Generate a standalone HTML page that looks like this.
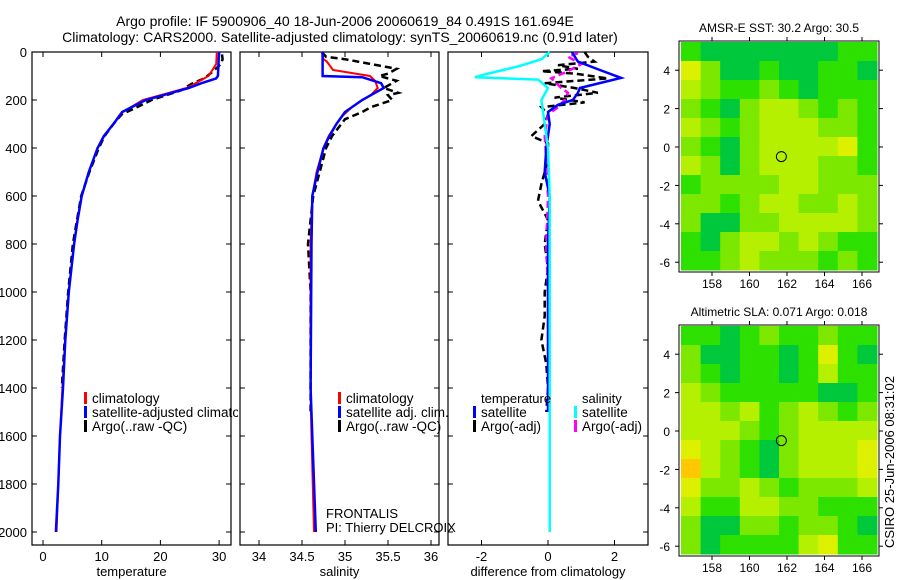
<!DOCTYPE html>
<html><head><meta charset="utf-8">
<style>
html,body{margin:0;padding:0;background:#fff;}
svg{display:block;font-family:"Liberation Sans",sans-serif;}
</style></head>
<body>
<svg id="fig" width="900" height="580" viewBox="0 0 900 580" xmlns="http://www.w3.org/2000/svg">
<defs><clipPath id="clip1"><rect x="0" y="0" width="238" height="580"/></clipPath></defs>
<rect width="900" height="580" fill="#fff"/>
<text x="345" y="26" font-size="14" text-anchor="middle">Argo profile: IF 5900906_40 18-Jun-2006 20060619_84 0.491S 161.694E</text>
<text x="340" y="42" font-size="14" text-anchor="middle">Climatology: CARS2000. Satellite-adjusted climatology: synTS_20060619.nc (0.91d later)</text>
<g id="g1" clip-path="url(#clip1)"></g>
<g id="g2"></g>
<g id="g3"></g>
<g id="m1"></g>
<g id="m2"></g>
<text transform="translate(894,462) rotate(-90)" font-size="13" text-anchor="middle">CSIRO 25-Jun-2006 08:31:02</text>
</svg>
<script>
// ---- data ----
const tempClimDepth = [0,50,100,130,150,180,200,250,300,350,400,500,600,700,800,1000,1200,1400,1600,1800,2000];
const tempClim      = [29.6,29.5,28.2,26,24.5,20,17,13.6,12,10.3,9.3,7.8,6.6,5.9,5.3,4.4,3.8,3.3,2.9,2.6,2.3];
const tempSatDepth  = [0,100,110,130,150,180,200,250,300,350,400,500,600,700,800,1000,1200,1400,1600,1800,2000];
const tempSat       = [30.0,29.8,29.5,27,24.8,20.5,17.5,13.5,12,10.4,9.3,7.8,6.6,5.9,5.3,4.4,3.8,3.4,2.9,2.6,2.2];
const tempArgoDepth = [10,30,50,80,110,130,160,200,230,260,300,350,400,500,600,700,800,1000,1200,1400];
const tempArgo      = [30.5,30.6,30.3,29,27.5,25.5,23.5,18.5,16,13.4,12,10.5,9.5,7.9,6.5,5.8,5.1,4.3,3.7,3.2];

const salClimDepth = [0,30,40,60,75,100,120,150,180,200,230,270,300,350,400,500,600,800,1400,1600,2000];
const salClim      = [34.73,34.75,34.79,34.83,34.86,35.29,35.35,35.38,35.3,35.2,35.08,34.96,34.9,34.81,34.75,34.67,34.62,34.6,34.6,34.61,34.64];
const salSatDepth  = [0,100,105,130,150,180,200,250,300,350,400,500,600,800,1400,1600,2000];
const salSat       = [34.74,34.74,35.2,35.42,35.45,35.3,35.2,35.0,34.9,34.82,34.75,34.68,34.62,34.61,34.6,34.62,34.66];
const salArgoDepth = [0,20,30,50,70,90,100,120,150,170,180,200,230,250,280,350,400,600,800,1000,1200,1500];
const salArgo      = [34.73,34.78,35.0,35.3,35.6,35.5,35.4,35.6,35.45,35.62,35.5,35.55,35.3,35.2,35.0,34.85,34.78,34.63,34.57,34.6,34.6,34.6];

const dTempSatDepth = [0,40,75,108,150,170,200,220,250,300,400,500,600,800,1000,1500];
const dTempSat      = [0.72,0.9,1.56,2.2,0.96,0.9,0.75,0.3,0.0,0.05,-0.05,-0.1,0.05,0,0,0];
const dSalSatDepth  = [0,30,60,90,105,115,150,200,300,400,600,1000,2000];
const dSalSat       = [0.05,-0.2,-0.9,-1.8,-2.2,-0.3,0.0,-0.2,-0.1,0,0.05,0.05,0.05];
const dSalArgoDepth = [5,20,50,80,110,150,170,200,230,260,350,450,600,800,1000,1200,1500];
const dSalArgo      = [0.9,0.6,1.0,0.6,0.1,0.4,0.6,0.5,0.3,0,-0.1,-0.05,0,-0.05,0,0,0];
const dTempArgoDepth = [0,20,40,55,70,80,90,110,130,150,170,190,210,230,260,300,350,380,450,550,620,700,800,900,1000,1100,1200,1300,1400,1500];
const dTempArgo      = [1.1,1.2,1.4,0.3,0.9,-0.2,0.8,1.8,-0.1,0.8,1.5,0.2,1.1,-0.2,0,-0.1,-0.5,0,0,-0.2,-0.3,0,-0.1,0,-0.1,-0.1,-0.2,-0.05,0,-0.05];

const depthTicks = [0,200,400,600,800,1000,1200,1400,1600,1800,2000];
const tempTicks = [0,10,20,30];
const salTicks = [34,34.5,35,35.5,36];
const diffTicks = [-2,0,2];

const sstGrid = [
[1,0,0,0,0,0,0,0,1,1],[4,2,0,0,1,0,0,1,1,0],[3,2,1,1,2,1,0,1,1,1],[2,1,0,2,3,3,2,1,2,1],
[3,2,1,2,3,3,3,2,2,1],[2,1,0,2,3,3,3,3,4,1],[3,2,0,2,3,3,3,2,2,1],[1,2,2,2,2,3,3,2,2,2],
[2,2,1,2,3,3,2,2,3,2],[2,0,0,2,2,3,3,3,3,2],[1,0,2,3,3,2,3,2,1,1],[1,1,2,3,2,2,2,1,2,1]];
const slaGrid = [
[1,1,0,1,2,1,1,2,1,1],[2,0,0,1,1,0,1,4,1,0],[2,1,0,1,1,0,1,3,1,1],[3,2,1,1,1,1,1,0,0,1],
[3,3,2,3,1,2,3,2,1,2],[3,3,3,2,1,2,3,3,3,3],[4,3,2,1,0,2,3,3,3,4],[5,3,2,1,0,2,3,3,3,4],
[4,2,2,3,2,1,2,2,2,3],[3,1,1,3,3,2,2,1,1,1],[2,0,0,2,2,1,2,2,1,0],[2,0,1,1,1,1,3,4,1,1]];
const lonTicks = [158,160,162,164,166];
const latTicks = [4,2,0,-2,-4,-6];
const floatLon = [161.7];
const floatLat = [-0.5];

// ---- helpers ----
const NS="http://www.w3.org/2000/svg";
function mk(parent,tag,attrs){const e=document.createElementNS(NS,tag);for(const k in attrs)e.setAttribute(k,attrs[k]);parent.appendChild(e);return e;}
const yD = d => 52 + 0.24*d;
const TOP=52,BOT=545;

function panel(g,x0,x1,xf,ticks,fmt,label,showY,nm){
  const f=mk(g,'rect',{x:x0,y:TOP,width:x1-x0,height:BOT-TOP,fill:'none',stroke:'#000','stroke-width':1.2});
  
  
  ticks.forEach(t=>{const x=xf(t);
    mk(g,'line',{x1:x,x2:x,y1:BOT,y2:BOT-5,stroke:'#000'});
    mk(g,'line',{x1:x,x2:x,y1:TOP,y2:TOP+5,stroke:'#000'});
    const tx=mk(g,'text',{x:x,y:BOT+16,'font-size':13,'text-anchor':'middle'});tx.textContent=fmt(t);
    
    
  });
  depthTicks.forEach(d=>{const y=yD(d);
    mk(g,'line',{x1:x0,x2:x0+5,y1:y,y2:y,stroke:'#000'});
    mk(g,'line',{x1:x1,x2:x1-5,y1:y,y2:y,stroke:'#000'});
    if(showY){const tx=mk(g,'text',{x:x0-5,y:y+5,'font-size':13,'text-anchor':'end'});tx.textContent=d;
      
      }
  });
  const xl=mk(g,'text',{x:(x0+x1)/2,y:576,'font-size':13,'text-anchor':'middle'});xl.textContent=label;
  
  
}
function line(g,xs,ds,xf,color,w,dash,nm){
  const pts=xs.map((v,i)=>xf(v).toFixed(1)+','+yD(ds[i]).toFixed(1)).join(' ');
  const p=mk(g,'polyline',{points:pts,fill:'none',stroke:color,'stroke-width':w});
  if(dash)p.setAttribute('stroke-dasharray',dash);
  
  
}
function legend(g,x,y,color,txt,nm){
  mk(g,'rect',{x:x,y:y-11,width:3,height:12,fill:color});
  const t=mk(g,'text',{x:x+8,y:y,'font-size':13.5});t.textContent=txt;
  
  
}
function txt(g,x,y,s,nm,anchor){const t=mk(g,'text',{x:x,y:y,'font-size':13,'text-anchor':anchor||'start'});t.textContent=s;
  
  }

// panel 1
const g1=document.getElementById('g1');
const xT=t=>43+5.87*t;
panel(g1,32,231,xT,tempTicks,String,'temperature',true,'temperature');
line(g1,tempArgo,tempArgoDepth,xT,'#000',2.5,'7,4','temp-argo-line');
line(g1,tempClim,tempClimDepth,xT,'#f00',2,null,'temp-climatology-line');
line(g1,tempSat,tempSatDepth,xT,'#00f',2.5,null,'temp-satellite-line');
legend(g1,84,403,'#f00','climatology','legend-climatology');
legend(g1,84,417,'#00f','satellite-adjusted climatology','legend-satellite');
legend(g1,84,431,'#000','Argo(..raw -QC)','legend-argo');

// panel 2
const g2=document.getElementById('g2');
const xS=s=>259+86*(s-34);
panel(g2,240,439,xS,salTicks,String,'salinity',false,'salinity');
line(g2,salArgo,salArgoDepth,xS,'#000',2.5,'7,4','sal-argo-line');
line(g2,salClim,salClimDepth,xS,'#f00',2,null,'sal-climatology-line');
line(g2,salSat,salSatDepth,xS,'#00f',2.5,null,'sal-satellite-line');
legend(g2,338,403,'#f00','climatology','legend-climatology');
legend(g2,338,417,'#00f','satellite adj. clim.','legend-satellite');
legend(g2,338,431,'#000','Argo(..raw -QC)','legend-argo');
txt(g2,326,518,'FRONTALIS','platform-label');
txt(g2,326,532,'PI: Thierry DELCROIX','pi-label');

// panel 3
const g3=document.getElementById('g3');
const xDf=v=>548+33.25*v;
panel(g3,448,648,xDf,diffTicks,String,'difference from climatology',false,'difference');
line(g3,dTempArgo,dTempArgoDepth,xDf,'#000',2.5,'7,4','dtemp-argo-line');
line(g3,dSalArgo,dSalArgoDepth,xDf,'#f0f',2.5,'7,4','dsal-argo-line');
line(g3,dTempSat,dTempSatDepth,xDf,'#00f',2.5,null,'dtemp-satellite-line');
line(g3,dSalSat,dSalSatDepth,xDf,'#0ff',2.5,null,'dsal-satellite-line');
txt(g3,481,403,'temperature','legend-temperature-heading');
txt(g3,582,403,'salinity','legend-salinity-heading');
legend(g3,473,417,'#00f','satellite','legend-temp-satellite');
legend(g3,473,431,'#000','Argo(-adj)','legend-temp-argo');
legend(g3,574,417,'#0ff','satellite','legend-sal-satellite');
legend(g3,574,431,'#f0f','Argo(-adj)','legend-sal-argo');

// maps
const palette=['#00c83c','#2ee000','#7ce800','#b4f000','#dcf000','#ffc800'];
function map(g,top,grid,title,nm){
  const L=679,R=879,B=top+231;
  const lonX=lon=>712+(lon-158)*18.75;
  const latY=lat=>top+106+(-lat)*19.2;
  const ny=grid.length,nx=grid[0].length;
  const cw=(R-2-(L+2))/nx,ch=(B-2-(top+1))/ny;
  grid.forEach((row,j)=>row.forEach((v,i)=>{
    const r=mk(g,'rect',{x:L+2+i*cw,y:top+1+j*ch,width:cw+0.5,height:ch+0.5,fill:palette[v]});
    
    
  }));
  mk(g,'rect',{x:L,y:top,width:R-L,height:B-top,fill:'none',stroke:'#000','stroke-width':1});
  lonTicks.forEach(l=>{const x=lonX(l);
    mk(g,'line',{x1:x,x2:x,y1:B,y2:B+4,stroke:'#000'});
    mk(g,'line',{x1:x,x2:x,y1:top,y2:top-4,stroke:'#000'});
    const t=mk(g,'text',{x:x,y:B+16,'font-size':12,'text-anchor':'middle'});t.textContent=l;
    
    });
  latTicks.forEach(l=>{const y=latY(l);
    mk(g,'line',{x1:L,x2:L-4,y1:y,y2:y,stroke:'#000'});
    mk(g,'line',{x1:R,x2:R+4,y1:y,y2:y,stroke:'#000'});
    const t=mk(g,'text',{x:L-9,y:y+5,'font-size':12,'text-anchor':'end'});t.textContent=l;
    
    });
  const c=mk(g,'circle',{cx:lonX(floatLon[0]),cy:latY(floatLat[0]),r:5,fill:'none',stroke:'#000','stroke-width':1});
  
  
  const t=mk(g,'text',{x:779,y:top-9,'font-size':12,'text-anchor':'middle'});t.textContent=title;
  
  
}
map(document.getElementById('m1'),41,sstGrid,'AMSR-E SST: 30.2 Argo: 30.5','sst-map');
map(document.getElementById('m2'),325,slaGrid,'Altimetric SLA: 0.071 Argo: 0.018','sla-map');
</script>
</body></html>
